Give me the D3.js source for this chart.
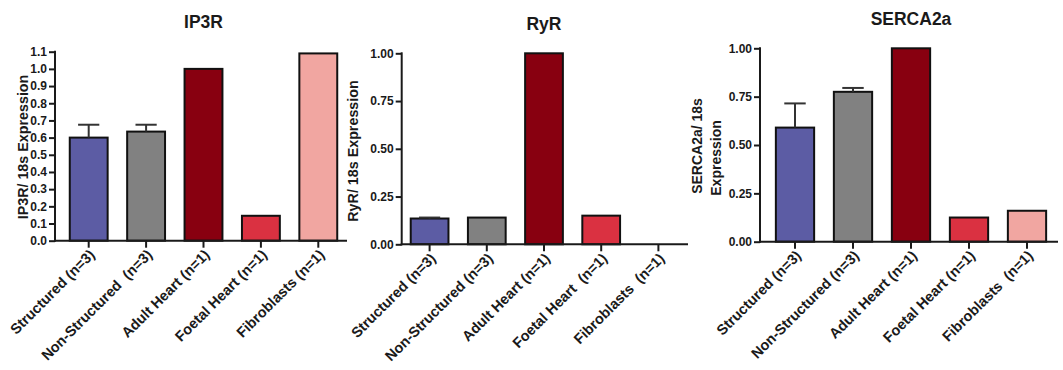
<!DOCTYPE html>
<html>
<head>
<meta charset="utf-8">
<script src="https://cdn.jsdelivr.net/npm/d3@7"></script>
<style>
  html, body { margin: 0; padding: 0; background: #fff; }
  svg text { font-family: "Liberation Sans", Arial, sans-serif; font-weight: bold; fill: #1a1a1a; white-space: pre; }
</style>
</head>
<body>
<svg id="chart" width="1063" height="370"></svg>
<script>
// Sample groups (labels per panel, spacing as printed)
const ip3rCategories  = ["Structured (n=3)", "Non-Structured  (n=3)", "Adult Heart (n=1)", "Foetal Heart (n=1)", "Fibroblasts (n=1)"];
const ryrCategories   = ["Structured (n=3)", "Non-Structured (n=3)", "Adult Heart (n=1)", "Foetal Heart  (n=1)", "Fibroblasts  (n=1)"];
const sercaCategories = ["Structured (n=3)", "Non-Structured (n=3)", "Adult Heart (n=1)", "Foetal Heart (n=1)", "Fibroblasts  (n=1)"];

// Expression relative to 18s (mean) and upper error (SEM)
const ip3rMeans  = [0.60, 0.635, 1.00, 0.145, 1.09];
const ip3rErr    = [0.075, 0.04, 0, 0, 0];
const ryrMeans   = [0.135, 0.14, 1.00, 0.15, 0];
const ryrErr     = [0.005, 0, 0, 0, 0];
const sercaMeans = [0.59, 0.775, 1.00, 0.125, 0.16];
const sercaErr   = [0.125, 0.02, 0, 0, 0];

// Tick values
const ip3rTicks  = [0, 0.1, 0.2, 0.3, 0.4, 0.5, 0.6, 0.7, 0.8, 0.9, 1.0, 1.1];
const ryrTicks   = [0, 0.25, 0.5, 0.75, 1.0];
const sercaTicks = [0, 0.25, 0.5, 0.75, 1.0];

const barColors = ["#5c5ca4", "#818181", "#880010", "#da3141", "#f1a6a1"];

const svg = d3.select("#chart");

const panels = [
  { title: "IP3R", titleY: 28, yLabel: ["IP3R/ 18s Expression"], yLabelX: [28], yLabelY: [147], yLabelSize: 14.3,
    cats: ip3rCategories, means: ip3rMeans, errs: ip3rErr, ticks: ip3rTicks, fmt: d3.format(".1f"),
    yMax: 1.1, axisX: 55, xEnd: 347, band: [60, 347], yTop: 51.7, yBottom: 240.7 },
  { title: "RyR", titleY: 30, yLabel: ["RyR/ 18s Expression"], yLabelX: [358], yLabelY: [151], yLabelSize: 14.3,
    cats: ryrCategories, means: ryrMeans, errs: ryrErr, ticks: ryrTicks, fmt: d3.format(".2f"),
    yMax: 1.0, axisX: 401.7, xEnd: 688, band: [401, 687], yTop: 53.3, yBottom: 244.3 },
  { title: "SERCA2a", titleY: 25, yLabel: ["SERCA2a/ 18s", "Expression"], yLabelX: [702, 721], yLabelY: [146, 158], yLabelSize: 14,
    cats: sercaCategories, means: sercaMeans, errs: sercaErr, ticks: sercaTicks, fmt: d3.format(".2f"),
    yMax: 1.0, axisX: 760, xEnd: 1058, band: [766, 1056], yTop: 48.3, yBottom: 241.7 }
];

panels.forEach(p => {
  const g = svg.append("g");

  const x = d3.scaleBand().domain(p.cats).range(p.band).paddingInner(0.34).paddingOuter(0.17);
  const y = d3.scaleLinear().domain([0, p.yMax]).range([p.yBottom, p.yTop]);

  // bars
  g.selectAll("rect.bar").data(p.cats.map((c, i) => ({ c, v: p.means[i], i })).filter(d => d.v > 0))
    .join("rect")
    .attr("class", "bar")
    .attr("x", d => x(d.c))
    .attr("width", x.bandwidth())
    .attr("y", d => y(d.v))
    .attr("height", d => y(0) - y(d.v))
    .attr("fill", d => barColors[d.i])
    .attr("stroke", "#111")
    .attr("stroke-width", 2);

  // upper error bars
  const errData = p.cats.map((c, i) => ({ c, v: p.means[i], e: p.errs[i] })).filter(d => d.e > 0);
  const cap = x.bandwidth() * 0.28;
  const eg = g.selectAll("g.err").data(errData).join("g").attr("class", "err")
    .attr("stroke", "#333").attr("stroke-width", 2);
  eg.append("line")
    .attr("x1", d => x(d.c) + x.bandwidth() / 2).attr("x2", d => x(d.c) + x.bandwidth() / 2)
    .attr("y1", d => y(d.v)).attr("y2", d => y(d.v + d.e));
  eg.append("line")
    .attr("x1", d => x(d.c) + x.bandwidth() / 2 - cap).attr("x2", d => x(d.c) + x.bandwidth() / 2 + cap)
    .attr("y1", d => y(d.v + d.e)).attr("y2", d => y(d.v + d.e));

  // y axis
  const yAxis = g.append("g")
    .attr("transform", `translate(${p.axisX},0)`)
    .call(d3.axisLeft(y).tickValues(p.ticks).tickFormat(p.fmt).tickSize(6).tickPadding(2).tickSizeOuter(0));
  yAxis.select(".domain").attr("stroke", "#1a1a1a").attr("stroke-width", 2)
    .attr("d", `M0,${p.yTop - 1}V${p.yBottom + 1}`);
  yAxis.selectAll(".tick line").attr("stroke", "#1a1a1a").attr("stroke-width", 2);
  yAxis.selectAll(".tick text").attr("font-size", 12).attr("fill", "#1a1a1a")
    .attr("font-family", "'Liberation Sans', Arial, sans-serif").attr("font-weight", "bold");

  // x axis
  const xAxis = g.append("g")
    .attr("transform", `translate(0,${p.yBottom})`)
    .call(d3.axisBottom(x).tickSize(7).tickSizeOuter(0).tickFormat(""));
  xAxis.select(".domain").attr("stroke", "#1a1a1a").attr("stroke-width", 2)
    .attr("d", `M${p.axisX - 1},0H${p.xEnd}`);
  xAxis.selectAll(".tick line").attr("stroke", "#1a1a1a").attr("stroke-width", 2);

  // rotated category labels
  g.selectAll("text.cat").data(p.cats).join("text")
    .attr("class", "cat")
    .attr("text-anchor", "end")
    .attr("font-size", 14.5)
    .attr("transform", d => `translate(${x(d) + x.bandwidth() / 2 + 7},${p.yBottom + 15}) rotate(-45)`)
    .text(d => d);

  // title
  g.append("text")
    .attr("x", (p.band[0] + p.band[1]) / 2)
    .attr("y", p.titleY)
    .attr("text-anchor", "middle")
    .attr("font-size", 17.5)
    .text(p.title);

  // y axis title
  p.yLabel.forEach((line, k) => {
    g.append("text")
      .attr("text-anchor", "middle")
      .attr("font-size", p.yLabelSize)
      .attr("transform", `translate(${p.yLabelX[k]},${p.yLabelY[k]}) rotate(-90)`)
      .text(line);
  });
});
</script>
</body>
</html>
